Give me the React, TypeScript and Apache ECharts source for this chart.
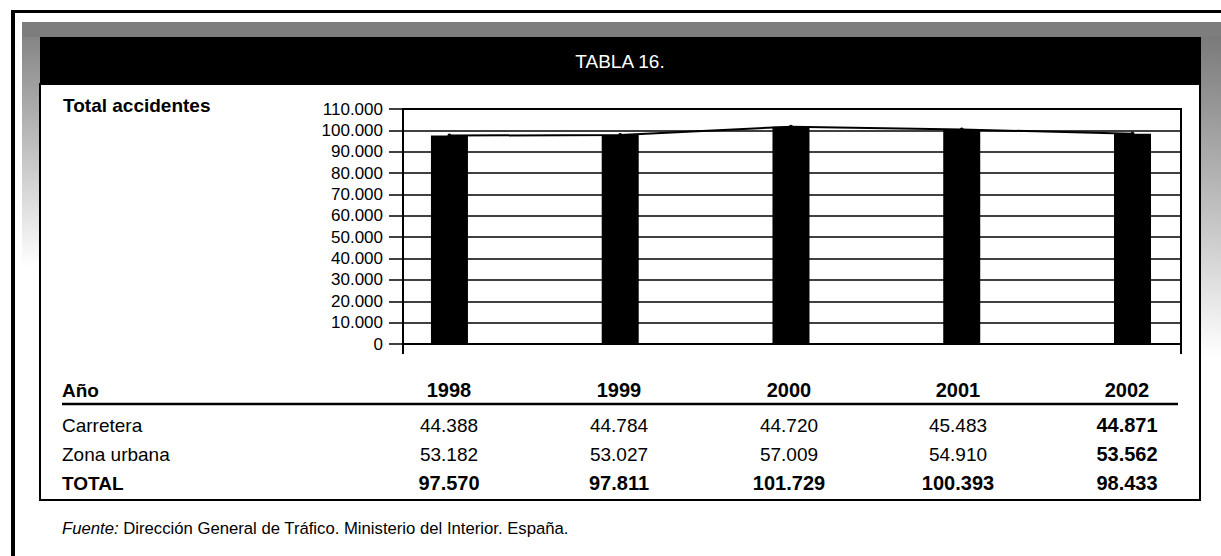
import React, { useEffect, useRef } from "react";
import * as echarts from "echarts";

const years = ["1998", "1999", "2000", "2001", "2002"];
const carretera = [44388, 44784, 44720, 45483, 44871];
const zonaUrbana = [53182, 53027, 57009, 54910, 53562];
const total = [97570, 97811, 101729, 100393, 98433];
const rowLabels = ["Carretera", "Zona urbana", "TOTAL"];
const yMin = 0;
const yMax = 110000;
const yInterval = 10000;

const FONT = "'Liberation Sans', Arial, Helvetica, sans-serif";
const fmt = (v: number) => String(v).replace(/\B(?=(\d{3})+(?!\d))/g, ".");

// layout constants
const colX = [449, 619, 789, 958, 1127];
const headerY = 390;
const rowY = [425, 454, 483];

export default function App() {
  const ref = useRef<HTMLDivElement>(null);
  useEffect(() => {
    document.body.style.margin = "0";
    if (!ref.current) return;
    const chart = echarts.init(ref.current, undefined, { renderer: "svg" });

    const graphics: any[] = [];
    // gray shading (scan shadow)
    graphics.push({
      type: "rect", shape: { x: 22, y: 22, width: 1199, height: 15 },
      style: { fill: "#7d7d7d" }, silent: true,
    });
    graphics.push({
      type: "rect", shape: { x: 22, y: 37, width: 18, height: 230 },
      style: {
        fill: { type: "linear", x: 0, y: 0, x2: 0, y2: 1,
          colorStops: [{ offset: 0, color: "#858585" }, { offset: 1, color: "#ffffff" }] },
      }, silent: true,
    });
    graphics.push({
      type: "rect", shape: { x: 1201, y: 37, width: 20, height: 320 },
      style: {
        fill: { type: "linear", x: 0, y: 0, x2: 0, y2: 1,
          colorStops: [{ offset: 0, color: "#7a7a7a" }, { offset: 0.6, color: "#c8c8c8" }, { offset: 1, color: "#ffffff" }] },
      }, silent: true,
    });
    // outer frame
    graphics.push({ type: "rect", shape: { x: 11, y: 10, width: 1210, height: 3 }, style: { fill: "#000" }, silent: true });
    graphics.push({ type: "rect", shape: { x: 11, y: 10, width: 4, height: 546 }, style: { fill: "#000" }, silent: true });
    // header bar
    graphics.push({ type: "rect", shape: { x: 40, y: 37, width: 1161, height: 48 }, style: { fill: "#000" }, silent: true });
    graphics.push({
      type: "text", x: 620, y: 61,
      style: { text: "TABLA 16.", fill: "#fff", font: `19px ${FONT}`, align: "center", verticalAlign: "middle" },
    });
    // panel box
    graphics.push({
      type: "rect", shape: { x: 40, y: 84, width: 1160, height: 416 },
      style: { fill: "none", stroke: "#000", lineWidth: 2 }, silent: true,
    });
    // chart title
    graphics.push({
      type: "text", x: 63, y: 105,
      style: { text: "Total accidentes", fill: "#000", font: `bold 19px ${FONT}`, align: "left", verticalAlign: "middle" },
    });
    // axis extensions below zero
    graphics.push({ type: "line", shape: { x1: 403, y1: 344, x2: 403, y2: 354 }, style: { stroke: "#000", lineWidth: 2 }, silent: true });
    graphics.push({ type: "line", shape: { x1: 1181, y1: 344, x2: 1181, y2: 354 }, style: { stroke: "#000", lineWidth: 2 }, silent: true });

    // table
    graphics.push({
      type: "text", x: 62, y: headerY,
      style: { text: "Año", fill: "#000", font: `bold 19px ${FONT}`, align: "left", verticalAlign: "middle" },
    });
    years.forEach((y, i) => {
      graphics.push({
        type: "text", x: colX[i], y: headerY,
        style: { text: y, fill: "#000", font: `bold 20px ${FONT}`, align: "center", verticalAlign: "middle" },
      });
    });
    graphics.push({ type: "line", shape: { x1: 62, y1: 404, x2: 1178, y2: 404 }, style: { stroke: "#000", lineWidth: 2.5 }, silent: true });
    const rows = [carretera, zonaUrbana, total];
    rows.forEach((vals, r) => {
      const bold = r === 2;
      graphics.push({
        type: "text", x: 62, y: rowY[r],
        style: { text: rowLabels[r], fill: "#000", font: `${bold ? "bold " : ""}19px ${FONT}`, align: "left", verticalAlign: "middle" },
      });
      vals.forEach((v, i) => {
        const b = bold || i === years.length - 1;
        graphics.push({
          type: "text", x: colX[i], y: rowY[r],
          style: { text: fmt(v), fill: "#000", font: `${b ? "bold " : ""}${b ? 20 : 19}px ${FONT}`, align: "center", verticalAlign: "middle" },
        });
      });
    });
    // source
    graphics.push({
      type: "text", x: 62, y: 528,
      style: {
        text: "{i|Fuente:} Dirección General de Tráfico. Ministerio del Interior. España.",
        fill: "#000", font: `16.7px ${FONT}`, align: "left", verticalAlign: "middle",
        rich: { i: { fontStyle: "italic", fontSize: 16.7, fontFamily: FONT, fill: "#000" } },
      },
    });

    chart.setOption({
      animation: false,
      backgroundColor: "#fff",
      grid: { left: 403, right: 40, top: 109, bottom: 212, show: true, borderColor: "#000", borderWidth: 2 },
      xAxis: { type: "value", min: -0.272, max: 4.284, show: false },
      yAxis: {
        type: "value", min: yMin, max: yMax, interval: yInterval,
        axisLine: { show: true, onZero: false, lineStyle: { color: "#000", width: 2 } },
        axisTick: { show: true, length: 14, lineStyle: { color: "#000", width: 1.5 } },
        axisLabel: { margin: 20, color: "#000", fontSize: 17, fontFamily: FONT, formatter: (v: number) => fmt(v) },
        splitLine: { show: true, lineStyle: { color: "#000", width: 1.6 } },
      },
      series: [
        {
          type: "bar", barWidth: 37, itemStyle: { color: "#000" },
          data: years.map((_, i) => [i, total[i]]),
        },
        {
          type: "line", symbol: "circle", symbolSize: 4,
          itemStyle: { color: "#000" }, lineStyle: { color: "#000", width: 2 },
          data: years.map((_, i) => [i, total[i]]),
        },
      ],
      graphic: graphics,
    });
    return () => chart.dispose();
  }, []);
  return <div ref={ref} style={{ position: "absolute", left: 0, top: 0, width: 1221, height: 556 }} />;
}
